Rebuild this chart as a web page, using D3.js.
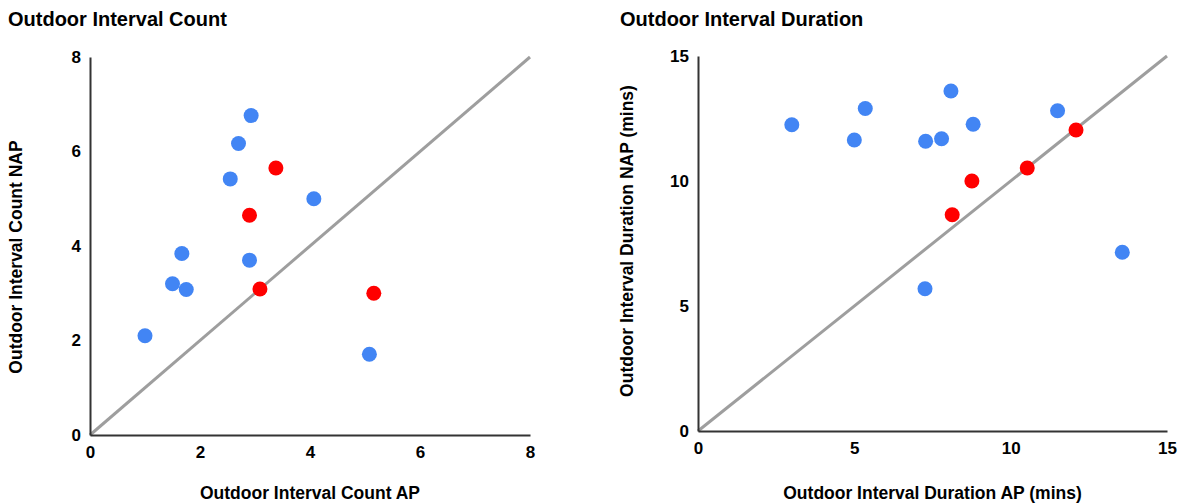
<!DOCTYPE html>
<html>
<head>
<meta charset="utf-8">
<script src="https://cdn.jsdelivr.net/npm/d3@7"></script>
<style>
  body { margin: 0; background: #fff; }
  svg text { font-family: "Liberation Sans", Arial, sans-serif; font-weight: bold; fill: #000; }
</style>
</head>
<body>
<div id="chart"></div>
<script>
// Outdoor interval count (AP vs NAP)
const countBlueX = [1.0, 1.5, 1.75, 1.67, 2.55, 2.7, 2.93, 2.9, 4.07, 5.08]
const countBlueY = [2.1, 3.2, 3.08, 3.84, 5.42, 6.17, 6.76, 3.7, 5.0, 1.71]
const countRedX = [3.38, 2.9, 3.09, 5.16]
const countRedY = [5.65, 4.65, 3.09, 3.0]
const countTicks = [0, 2, 4, 6, 8]

// Outdoor interval duration (mins)
const durBlueX = [3.0, 5.0, 5.35, 7.28, 7.79, 8.09, 8.8, 11.5, 7.26, 13.57]
const durBlueY = [12.25, 11.64, 12.9, 11.59, 11.69, 13.6, 12.27, 12.81, 5.69, 7.15]
const durRedX = [8.13, 8.76, 10.53, 12.09]
const durRedY = [8.65, 10.0, 10.52, 12.04]
const durTicks = [0, 5, 10, 15]

const blue = "#4285f4"
const red = "#ff0000"

const svg = d3.select("#chart").append("svg")
    .attr("width", 1188)
    .attr("height", 503)

function drawPanel(opts) {
    const x = d3.scaleLinear().domain([0, opts.max]).range([opts.left, opts.right])
    const y = d3.scaleLinear().domain([0, opts.max]).range([opts.bottom, opts.top])
    const g = svg.append("g")

    g.append("text")
        .attr("x", opts.titleX).attr("y", 26)
        .attr("font-size", 20)
        .text(opts.title)

    // diagonal reference line
    g.append("line")
        .attr("x1", x(0)).attr("y1", y(0))
        .attr("x2", x(opts.max)).attr("y2", y(opts.max))
        .attr("stroke", "#9e9e9e")
        .attr("stroke-width", 3)

    const xAxis = g.append("g")
        .attr("transform", `translate(0,${opts.bottom})`)
        .call(d3.axisBottom(x).tickValues(opts.ticks).tickSize(0).tickPadding(11))
    const yAxis = g.append("g")
        .attr("transform", `translate(${opts.left},0)`)
        .call(d3.axisLeft(y).tickValues(opts.ticks).tickSize(0).tickPadding(9))
    for (const ax of [xAxis, yAxis]) {
        ax.select(".domain").attr("stroke", "#333").attr("stroke-width", 2)
        ax.selectAll("text").attr("font-size", 17).attr("font-family", null)
    }

    g.append("text")
        .attr("x", (opts.left + opts.right) / 2).attr("y", 499)
        .attr("text-anchor", "middle")
        .attr("font-size", 17.5)
        .text(opts.xTitle)

    g.append("text")
        .attr("transform", `translate(${opts.yTitleX},${opts.yTitleY}) rotate(-90)`)
        .attr("text-anchor", "middle")
        .attr("font-size", 17.5)
        .text(opts.yTitle)

    const series = [
        { xs: opts.blueX, ys: opts.blueY, color: blue },
        { xs: opts.redX, ys: opts.redY, color: red }
    ]
    series.forEach(s => {
        g.append("g").selectAll("circle")
            .data(s.xs.map((v, i) => [v, s.ys[i]]))
            .enter().append("circle")
            .attr("cx", d => x(d[0]))
            .attr("cy", d => y(d[1]))
            .attr("r", 7.5)
            .attr("fill", s.color)
    })
}

drawPanel({
    title: "Outdoor Interval Count", titleX: 8,
    xTitle: "Outdoor Interval Count AP",
    yTitle: "Outdoor Interval Count NAP", yTitleX: 22, yTitleY: 257,
    max: 8, ticks: countTicks,
    left: 90, right: 530, top: 57, bottom: 435,
    blueX: countBlueX, blueY: countBlueY, redX: countRedX, redY: countRedY
})

drawPanel({
    title: "Outdoor Interval Duration", titleX: 620,
    xTitle: "Outdoor Interval Duration AP (mins)",
    yTitle: "Outdoor Interval Duration NAP (mins)", yTitleX: 633, yTitleY: 241,
    max: 15, ticks: durTicks,
    left: 698, right: 1167, top: 56, bottom: 431,
    blueX: durBlueX, blueY: durBlueY, redX: durRedX, redY: durRedY
})
</script>
</body>
</html>
